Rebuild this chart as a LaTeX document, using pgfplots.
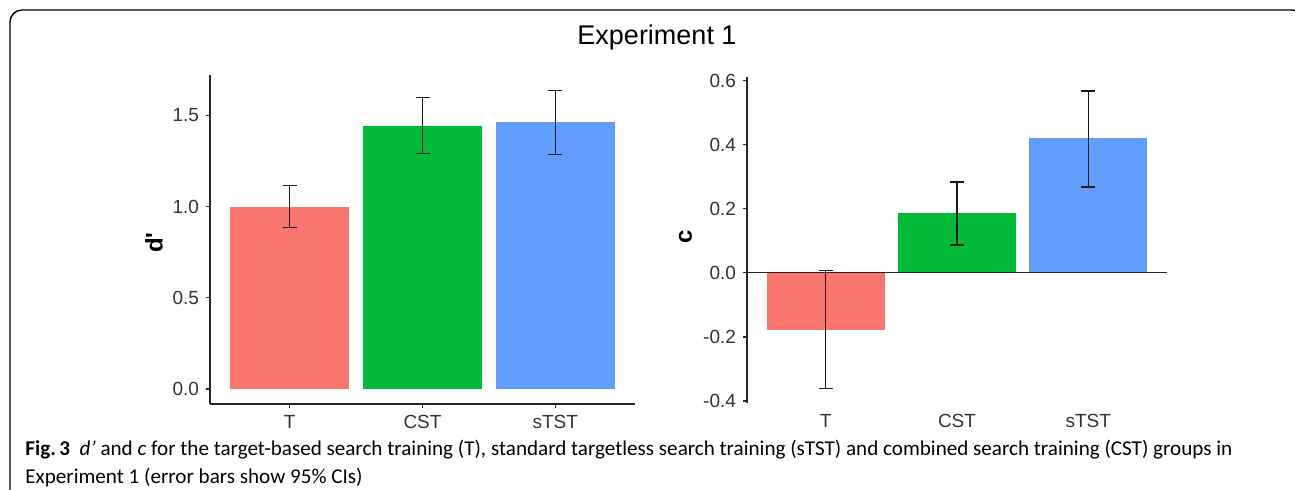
\documentclass[border=0pt]{standalone}
\usepackage{pgfplots}
\pgfplotsset{compat=1.18}
\usepackage{fontspec}
\setmainfont{Liberation Sans}
\newfontfamily\capfont{Carlito}
\definecolor{cT}{HTML}{F8766D}
\definecolor{cC}{HTML}{00BA38}
\definecolor{cS}{HTML}{619CFF}
\definecolor{tickgray}{HTML}{333333}
\pgfplotsset{
  barpanel/.style={
    scale only axis,
    xmin=0.4, xmax=3.6,
    xtick={1,2,3}, xticklabels={T,CST,sTST},
    tick align=outside, major tick length=2pt,
    axis x line*=bottom, axis y line*=left,
    axis line style={line width=0.65pt, color=black!85, -},
    tick style={line width=0.65pt, color=black!85},
    ticklabel style={font=\fontsize{9.5}{10}\selectfont, text=tickgray},
    /pgf/number format/assume math mode=true,
    clip=false,
  },
  gbar/.style={ybar, bar width=0.9, bar shift=0pt, fill=#1, draw=none,
    error bars/.cd, y dir=both, y explicit,
    error bar style={draw=black!90, line width=0.7pt},
    error mark options={draw=black!90, line width=0.7pt, mark size=3.5pt, rotate=90}},
}
\begin{document}
\begin{tikzpicture}
\useasboundingbox (0,0) rectangle (647.5pt,245pt);
\draw[line width=0.7pt, rounded corners=6pt] (5pt,-10pt) rectangle (652pt,240pt);
\node[font=\fontsize{13.5}{16}\selectfont] at (328.5pt,226pt) {Experiment 1};

% left panel: d'
\begin{axis}[barpanel,
  at={(105pt,43pt)}, anchor=south west,
  width=212.5pt, height=164.5pt,
  ymin=-0.082, ymax=1.722,
  ytick={0,0.5,1,1.5}, yticklabels={0.0,0.5,1.0,1.5},
]
\addplot[gbar=cT] coordinates {(1,1.00) += (0,0.115) -= (0,0.115)};
\addplot[gbar=cC] coordinates {(2,1.445) += (0,0.155) -= (0,0.155)};
\addplot[gbar=cS] coordinates {(3,1.465) += (0,0.172) -= (0,0.180)};
\node[rotate=90, anchor=center, font=\bfseries\fontsize{12}{14}\selectfont] at ([xshift=-28pt]rel axis cs:0,0.49) {d\textquotesingle};
\end{axis}

% right panel: c
\begin{axis}[barpanel,
  at={(373.5pt,43.5pt)}, anchor=south west,
  width=210pt, height=163pt,
  ymin=-0.406, ymax=0.611,
  ytick={-0.4,-0.2,0,0.2,0.4,0.6}, yticklabels={-0.4,-0.2,0.0,0.2,0.4,0.6},
  x axis line style={draw=none},
  xtick style={draw=none},
]
\addplot[gbar=cT] coordinates {(1,-0.178) += (0,0.186) -= (0,0.183)};
\addplot[gbar=cC] coordinates {(2,0.187) += (0,0.096) -= (0,0.100)};
\addplot[gbar=cS] coordinates {(3,0.420) += (0,0.147) -= (0,0.152)};
\addplot[black!85, line width=0.65pt, no marks] coordinates {(0.4,0) (3.6,0)};
\node[rotate=90, anchor=center, font=\bfseries\fontsize{12}{14}\selectfont] at ([xshift=-30.75pt]rel axis cs:0,0.51) {c};
\end{axis}

\node[anchor=north west, align=left, inner sep=0pt, font=\capfont\fontsize{10.55}{14}\selectfont] at (12.5pt,25pt)
 {\textbf{Fig.\,3}\ \ \textit{d’} and \textit{c} for the target-based search training (T), standard targetless search training (sTST) and combined search training (CST) groups in\\Experiment 1 (error bars show 95\% CIs)};
\end{tikzpicture}
\end{document}
